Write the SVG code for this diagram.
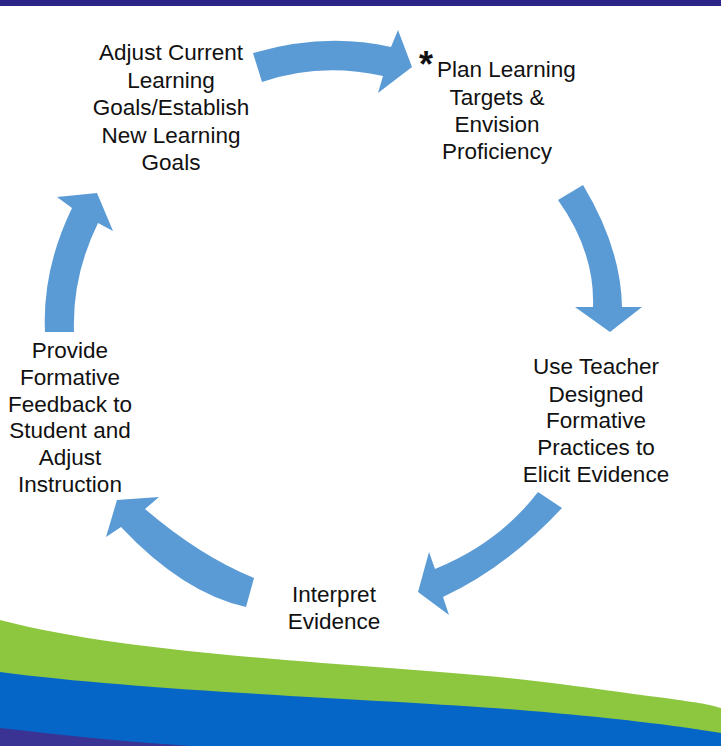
<svg xmlns="http://www.w3.org/2000/svg" width="721" height="746" viewBox="0 0 721 746">
<style>
.t{font-family:"Liberation Sans",Arial,sans-serif;font-size:22.5px;fill:#111;text-anchor:middle}
.a{fill:#5b9bd5}
</style>
<rect width="721" height="746" fill="#fff"/>
<rect width="721" height="6" fill="#2a2586"/>
<g id="waves">
<path d="M0,620 C150,660 420,665 560,684 S700,702 721,708 V746 H0 Z" fill="#8dc63f"/>
<path d="M0,672 C150,692 400,700 520,710 S690,728 721,733 V746 H0 Z" fill="#0566c8"/>
<path d="M0,728 C60,735 130,742 190,746 H0 Z" fill="#3a3393"/>
</g>
<g id="connectors">
<path class="a" d="M253,53 Q325,32 391,47 L398,30 L412,67 L378,93 L383,76 Q320,62 262,82 Z"/>
<path class="a" d="M583,185 Q621,248 622,307 L642,307 L610,332 L575,307 L593,307 Q595,252 558,200 Z"/>
<path class="a" d="M538,492 L562,508 Q507,567 443,597 L449,615 L418,592 L429,552 L435,569 Q499,543 538,492 Z"/>
<path class="a" d="M254,578 L246,607 Q183,593 121,527 L106,537 L117,500 L159,497 L145,509 Q200,556 254,578 Z"/>
<path class="a" d="M45,332 Q42,270 72,208 L57,197 L97,193 L113,231 L98,223 Q72,276 74,332 Z"/>
</g>
<g id="adjust-goals">
<text class="t" x="171" y="60">Adjust Current</text>
<text class="t" x="171" y="88">Learning</text>
<text class="t" x="171" y="115">Goals/Establish</text>
<text class="t" x="171" y="143">New Learning</text>
<text class="t" x="171" y="170">Goals</text>
</g>
<g id="plan-targets">
<text class="t" x="426" y="77" style="font-size:36px;font-weight:bold">*</text>
<text class="t" x="437" y="77" style="text-anchor:start">Plan Learning</text>
<text class="t" x="497" y="105">Targets &amp;</text>
<text class="t" x="497" y="132">Envision</text>
<text class="t" x="497" y="159">Proficiency</text>
</g>
<g id="elicit-evidence">
<text class="t" x="596" y="374">Use Teacher</text>
<text class="t" x="596" y="402">Designed</text>
<text class="t" x="596" y="428">Formative</text>
<text class="t" x="596" y="455">Practices to</text>
<text class="t" x="596" y="482">Elicit Evidence</text>
</g>
<g id="interpret-evidence">
<text class="t" x="334" y="602">Interpret</text>
<text class="t" x="334" y="629">Evidence</text>
</g>
<g id="feedback">
<text class="t" x="70" y="358">Provide</text>
<text class="t" x="70" y="385">Formative</text>
<text class="t" x="70" y="412">Feedback to</text>
<text class="t" x="70" y="438">Student and</text>
<text class="t" x="70" y="465">Adjust</text>
<text class="t" x="70" y="492">Instruction</text>
</g>
</svg>
